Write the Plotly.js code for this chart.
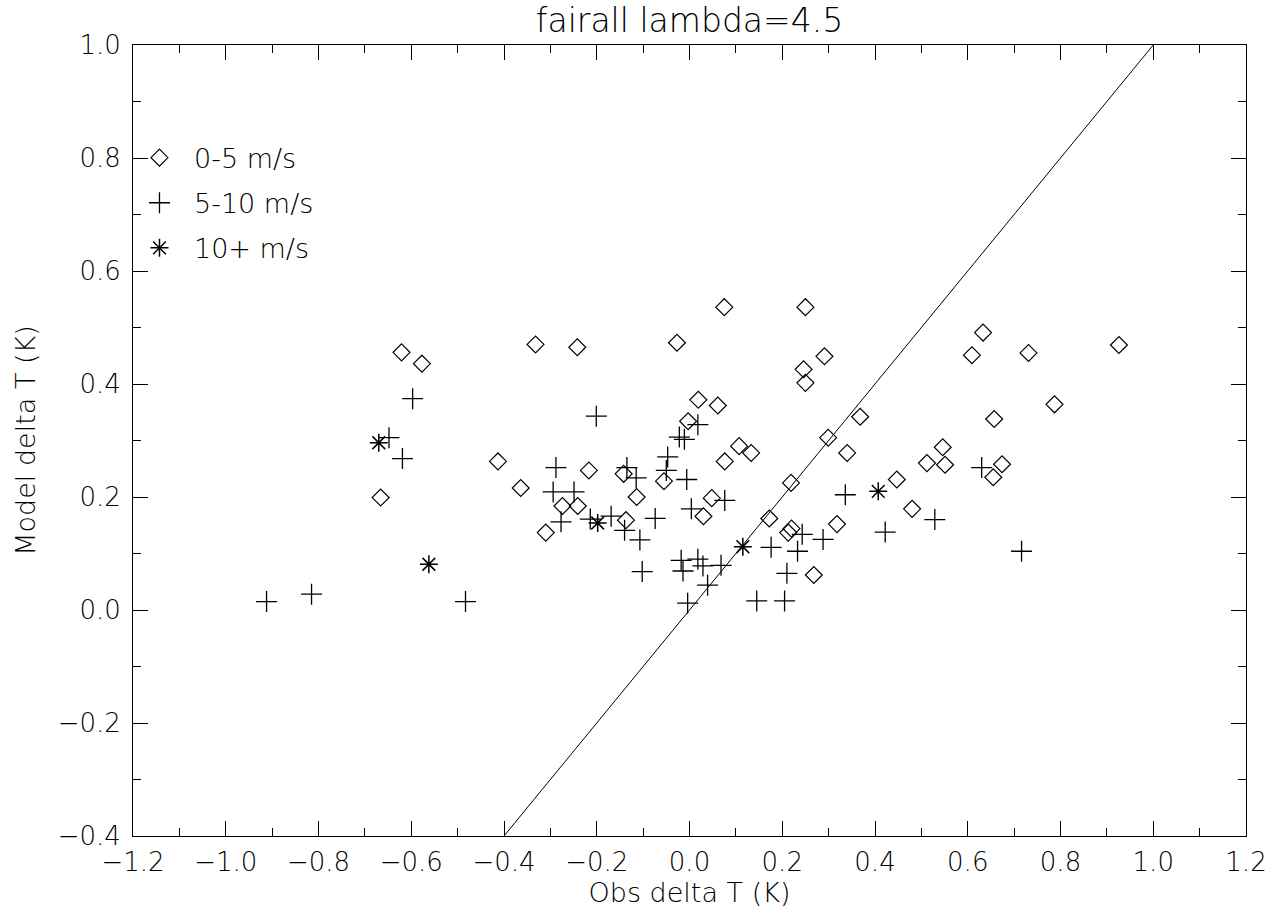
<!DOCTYPE html>
<html>
<head>
<meta charset="utf-8">
<script src="https://cdn.plot.ly/plotly-3.0.1.min.js"></script>
<style>html,body{margin:0;padding:0;background:#fff;}#chart{width:1285px;height:915px;}</style>
</head>
<body>
<div id="chart"></div>
<script>
// 0-5 m/s (diamonds)
const lowX = [-0.621,-0.577,-0.666,-0.413,-0.364,-0.332,-0.242,-0.027,0.075,0.250,0.246,0.250,0.291,0.019,0.061,-0.003,0.107,0.133,0.076,-0.217,-0.142,-0.055,-0.114,-0.274,-0.241,0.048,0.030,-0.137,-0.310,0.219,0.172,0.220,0.213,0.268,0.318,0.633,0.609,0.731,0.926,0.787,0.368,0.657,0.299,0.340,0.546,0.512,0.551,0.674,0.655,0.447,0.480];
const lowY = [0.456,0.436,0.199,0.263,0.216,0.470,0.465,0.473,0.536,0.536,0.426,0.402,0.449,0.372,0.362,0.334,0.290,0.278,0.263,0.247,0.241,0.228,0.200,0.184,0.184,0.198,0.166,0.159,0.137,0.225,0.162,0.144,0.137,0.062,0.152,0.491,0.451,0.455,0.469,0.364,0.342,0.338,0.305,0.278,0.288,0.260,0.257,0.258,0.235,0.231,0.179];
// 5-10 m/s (pluses)
const midX = [-0.597,-0.648,-0.619,-0.912,-0.815,-0.483,-0.201,0.018,-0.022,-0.011,-0.047,-0.050,-0.006,-0.288,-0.135,-0.115,-0.294,-0.249,-0.277,-0.214,-0.169,-0.140,-0.074,-0.107,-0.102,-0.018,-0.014,0.018,0.029,0.039,0.068,-0.004,0.076,0.004,0.176,0.233,0.210,0.145,0.205,0.243,0.288,0.336,0.422,0.529,0.630,0.716];
const midY = [0.374,0.305,0.268,0.015,0.028,0.015,0.343,0.328,0.306,0.302,0.271,0.247,0.231,0.252,0.252,0.234,0.209,0.209,0.156,0.161,0.166,0.141,0.162,0.124,0.068,0.088,0.069,0.090,0.078,0.044,0.079,0.012,0.194,0.179,0.111,0.104,0.065,0.016,0.016,0.134,0.125,0.204,0.138,0.160,0.252,0.104];
// 10+ m/s (asterisks)
const highX = [-0.670,-0.562,-0.198,0.115,0.407];
const highY = [0.296,0.081,0.154,0.112,0.210];
// 1:1 reference line
const oneToOne = [-1.2, 1.2];

const seriesNames = ['0-5 m/s', '5-10 m/s', '10+ m/s'];
const xTickVals = [-1.2,-1.0,-0.8,-0.6,-0.4,-0.2,0.0,0.2,0.4,0.6,0.8,1.0,1.2];
const xTickText = ['\u22121.2','\u22121.0','\u22120.8','\u22120.6','\u22120.4','\u22120.2','0.0','0.2','0.4','0.6','0.8','1.0','1.2'];
const yTickVals = [-0.4,-0.2,0.0,0.2,0.4,0.6,0.8,1.0];
const yTickText = ['\u22120.4','\u22120.2','0.0','0.2','0.4','0.6','0.8','1.0'];

const FONT = 'DejaVu Sans';
const tickFont = {family: FONT, size: 26, color: '#000', weight: 200};
const labelFont = {family: FONT, size: 27, color: '#000', weight: 200};

const traces = [
  {x: oneToOne, y: oneToOne, mode: 'lines', line: {color: '#000', width: 1}, showlegend: false, hoverinfo: 'skip'},
  {x: lowX, y: lowY, mode: 'markers', name: seriesNames[0], legendgroup: 'a',
   marker: {symbol: 'diamond-open', size: 13, color: '#000', line: {width: 1.2, color: '#000'}}},
  {x: midX, y: midY, mode: 'markers', name: seriesNames[1], legendgroup: 'b',
   marker: {symbol: 'cross-thin-open', size: 15, color: '#000', line: {width: 1.3, color: '#000'}}},
  {x: highX, y: highY, mode: 'markers', name: seriesNames[2], legendgroup: 'c',
   marker: {symbol: 'asterisk-open', size: 15, color: '#000', line: {width: 1.5, color: '#000'}}}
];

const axisCommon = {
  showgrid: false, zeroline: false, showline: true, linecolor: '#000', linewidth: 1,
  mirror: 'ticks', ticks: 'inside', ticklen: 15, tickcolor: '#000', tickwidth: 1,
  tickfont: tickFont, tickmode: 'array',
  minor: {ticks: 'inside', ticklen: 8, tickcolor: '#000', tickwidth: 1, dtick: 0.1, showgrid: false}
};

const layout = {
  width: 1285, height: 915,
  paper_bgcolor: '#fff', plot_bgcolor: '#fff',
  margin: {l: 133, r: 38.5, t: 44.7, b: 79, pad: 0},
  font: labelFont,
  title: {text: 'fairall lambda=4.5', font: {family: FONT, size: 33, color: '#000', weight: 200},
          x: 0.5366, xref: 'container', xanchor: 'center', y: 1 - 20/915, yref: 'container', yanchor: 'middle'},
  xaxis: Object.assign({}, axisCommon, {
    range: [-1.2, 1.2], tickvals: xTickVals, ticktext: xTickText, ticklabelstandoff: 3,
    title: {text: 'Obs delta T (K)', font: labelFont, standoff: 6}
  }),
  yaxis: Object.assign({}, axisCommon, {
    range: [-0.4, 1.0], tickvals: yTickVals, ticktext: yTickText, ticklabelstandoff: 6,
    title: {text: 'Model delta T (K)', font: labelFont, standoff: 14}
  }),
  showlegend: true,
  legend: {x: -0.0072, xanchor: 'left', y: 0.888, yanchor: 'top', bgcolor: 'rgba(0,0,0,0)',
           borderwidth: 0, font: labelFont, tracegroupgap: 7, itemsizing: 'trace', itemwidth: 59}
};

Plotly.newPlot('chart', traces, layout, {staticPlot: true, displayModeBar: false});
</script>
</body>
</html>
